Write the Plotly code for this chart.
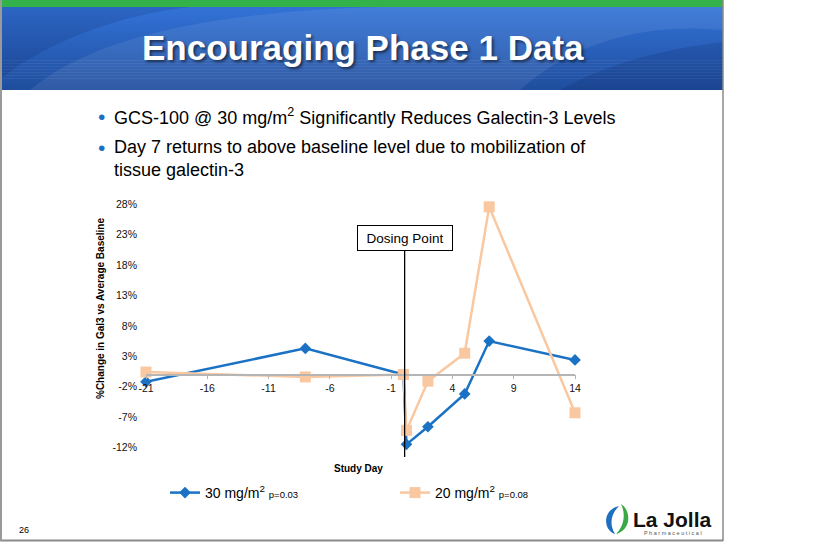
import plotly.graph_objects as go

# ---------------- data ----------------
study_days = [-21, -8, 0, 0.25, 2, 5, 7, 14]
change_30mg = [-1.2, 4.3, 0.0, -11.5, -8.6, -3.2, 5.5, 2.4]
change_20mg = [0.4, -0.4, 0.0, -9.2, -1.1, 3.5, 27.6, -6.3]
x_ticks = [-21, -16, -11, -6, -1, 4, 9, 14]
y_ticks = [-12, -7, -2, 3, 8, 13, 18, 23, 28]
y_tick_labels = [f"{v}%" for v in y_ticks]
series_names = ["30 mg/m<sup>2</sup> <span style='font-size:9.5px'>p=0.03</span>",
                "20 mg/m<sup>2</sup> <span style='font-size:9.5px'>p=0.08</span>"]
DOSING_DAY = 0.1

W, H = 819, 542
ML, MR, MT, MB = 146, 244, 201, 82
PW, PH = W - ML - MR, H - MT - MB
Y0PX, YSCALE = 374.5, 6.075
y_range = [-(H - MB - Y0PX) / YSCALE, (Y0PX - MT) / YSCALE]


def px(x):
    return (x - ML) / PW


def py(y):
    return (H - MB - y) / PH


def ydata(y):
    return (Y0PX - y) / YSCALE


BLUE = "#1b72c4"
ORANGE = "#f9c8a0"
FONT = "Liberation Sans, Arial, sans-serif"

fig = go.Figure()
fig.add_trace(go.Scatter(
    x=study_days, y=change_30mg, name=series_names[0], mode="lines+markers",
    line=dict(color=BLUE, width=2.5),
    marker=dict(symbol="diamond", size=9, color=BLUE),
    cliponaxis=False, hoverinfo="skip", legend="legend"))
fig.add_trace(go.Scatter(
    x=study_days, y=change_20mg, name=series_names[1], mode="lines+markers",
    line=dict(color=ORANGE, width=2.5),
    marker=dict(symbol="square", size=11, color=ORANGE),
    cliponaxis=False, hoverinfo="skip", legend="legend2"))

shapes = []
# header gradient
N = 28
top_c, bot_c = (50, 114, 214), (32, 78, 158)
for i in range(N):
    t = i / (N - 1)
    c = tuple(round(top_c[k] + (bot_c[k] - top_c[k]) * t) for k in range(3))
    y0 = 7 + (90 - 7) * i / N
    y1 = 7 + (90 - 7) * (i + 1) / N + 0.5
    shapes.append(dict(type="rect", xref="paper", yref="paper",
                       x0=px(2), x1=px(723), y0=py(y0), y1=py(min(y1, 90)),
                       fillcolor=f"rgb{c}", line_width=0, layer="below"))


def path(pts):
    s = ""
    for p in pts:
        if p[0] in ("M", "L"):
            s += f"{p[0]} {px(p[1])},{py(p[2])} "
        elif p[0] == "C":
            s += f"C {px(p[1])},{py(p[2])} {px(p[3])},{py(p[4])} {px(p[5])},{py(p[6])} "
    return s + "Z"


shapes.append(dict(type="path", xref="paper", yref="paper", layer="below",
                   path=path([("M", 30, 90), ("C", 90, 40, 200, 12, 380, 7), ("L", 723, 7),
                              ("L", 723, 30), ("C", 640, 22, 570, 45, 520, 90)]),
                   fillcolor="rgba(255,255,255,0.08)", line_width=0))
shapes.append(dict(type="path", xref="paper", yref="paper", layer="below",
                   path=path([("M", 2, 7), ("L", 190, 7), ("C", 120, 15, 50, 40, 2, 78)]),
                   fillcolor="rgba(0,10,60,0.12)", line_width=0))
shapes.append(dict(type="path", xref="paper", yref="paper", layer="below",
                   path=path([("M", 560, 90), ("C", 610, 62, 670, 48, 723, 42), ("L", 723, 90)]),
                   fillcolor="rgba(0,10,60,0.12)", line_width=0))
# green top bar
shapes.append(dict(type="rect", xref="paper", yref="paper", x0=px(0), x1=px(723),
                   y0=py(7), y1=py(0), fillcolor="#33b24a", line_width=0, layer="below"))
# slide frame
shapes.append(dict(type="line", xref="paper", yref="paper", x0=px(723), x1=px(723),
                   y0=py(0), y1=py(541), line=dict(color="#8a8a8a", width=1.5)))
shapes.append(dict(type="line", xref="paper", yref="paper", x0=px(0), x1=px(723),
                   y0=py(540.5), y1=py(540.5), line=dict(color="#8a8a8a", width=2)))
shapes.append(dict(type="line", xref="paper", yref="paper", x0=px(1), x1=px(1),
                   y0=py(0), y1=py(541), line=dict(color="#9a9a9a", width=2)))
# dosing line
shapes.append(dict(type="line", xref="x", yref="y", x0=DOSING_DAY, x1=DOSING_DAY,
                   y0=ydata(250), y1=ydata(457), line=dict(color="black", width=1.3)))
# logo leaves
shapes.append(dict(type="path", xref="paper", yref="paper",
                   path=path([("M", 619, 506), ("C", 602, 510, 603, 530, 615, 534),
                              ("C", 609, 524, 611, 514, 619, 506)]),
                   fillcolor="#1f6fc0", line_width=0))
shapes.append(dict(type="path", xref="paper", yref="paper",
                   path=path([("M", 616, 534), ("C", 632, 530, 631, 510, 621, 504),
                              ("C", 626, 514, 624, 526, 616, 534)]),
                   fillcolor="#3aa845", line_width=0))

ann = []
ann.append(dict(text="Encouraging Phase 1 Data", x=px(363), y=py(47), xref="paper", yref="paper",
                showarrow=False, xanchor="center", yanchor="middle",
                font=dict(family=FONT, size=35, color="white", weight="bold",
                          shadow="2px 2px 3px rgba(0,0,0,0.55)")))
bullet_lines = [("GCS-100 @ 30 mg/m<sup>2</sup> Significantly Reduces Galectin-3 Levels", 116, True),
                ("Day 7 returns to above baseline level due to mobilization of", 147, True),
                ("tissue galectin-3", 170, False)]
for txt, yy, has_b in bullet_lines:
    ann.append(dict(text=txt, x=px(112), y=py(yy), xref="paper", yref="paper",
                    showarrow=False, xanchor="left", yanchor="middle",
                    font=dict(family=FONT, size=18, color="black")))
    if has_b:
        ann.append(dict(text="•", x=px(101), y=py(yy), xref="paper", yref="paper",
                        showarrow=False, xanchor="center", yanchor="middle",
                        font=dict(family=FONT, size=21, color="#1f6fc5")))
ann.append(dict(text="Dosing Point", x=DOSING_DAY, y=ydata(238), xref="x", yref="y",
                showarrow=False, xanchor="center", yanchor="middle",
                bgcolor="white", bordercolor="black", borderwidth=1, borderpad=3,
                width=88, height=18, font=dict(family=FONT, size=13.5, color="black")))
ann.append(dict(text="%Change in Gal3 vs Average Baseline", x=px(100), y=py(309),
                xref="paper", yref="paper", showarrow=False, textangle=-90,
                xanchor="center", yanchor="middle",
                font=dict(family=FONT, size=10, color="black", weight="bold")))
ann.append(dict(text="Study Day", x=px(358), y=py(468), xref="paper", yref="paper",
                showarrow=False, xanchor="center", yanchor="middle",
                font=dict(family=FONT, size=10, color="black", weight="bold")))
ann.append(dict(text="26", x=px(24), y=py(530), xref="paper", yref="paper",
                showarrow=False, xanchor="center", yanchor="middle",
                font=dict(family=FONT, size=9, color="black")))
ann.append(dict(text="La Jolla", x=px(672), y=py(519), xref="paper", yref="paper",
                showarrow=False, xanchor="center", yanchor="middle",
                font=dict(family=FONT, size=21, color="#111", weight="bold")))
ann.append(dict(text="P h a r m a c e u t i c a l", x=px(673), y=py(533), xref="paper", yref="paper",
                showarrow=False, xanchor="center", yanchor="middle",
                font=dict(family=FONT, size=5.5, color="#555")))

legend_common = dict(orientation="h", yanchor="middle", xanchor="left",
                     font=dict(family=FONT, size=14, color="black"), bgcolor="rgba(0,0,0,0)",
                     borderwidth=0)
fig.update_layout(
    width=W, height=H, autosize=False,
    margin=dict(l=ML, r=MR, t=MT, b=MB, pad=0),
    paper_bgcolor="white", plot_bgcolor="rgba(0,0,0,0)",
    shapes=shapes, annotations=ann,
    showlegend=True,
    legend=dict(x=px(165), y=py(493), **legend_common),
    legend2=dict(x=px(395), y=py(493), **legend_common),
    xaxis=dict(range=[-21, 14], tickvals=x_ticks, ticktext=[str(v) for v in x_ticks],
               anchor="free", position=(0 - y_range[0]) / (y_range[1] - y_range[0]),
               showline=True, linecolor="#b5b5b5", linewidth=1.5,
               ticks="outside", ticklen=4, tickcolor="#b5b5b5", tickwidth=1,
               showgrid=False, zeroline=False,
               tickfont=dict(family=FONT, size=10.5, color="#111")),
    yaxis=dict(range=y_range, tickvals=y_ticks, ticktext=y_tick_labels,
               showline=False, showgrid=False, zeroline=False, ticks="",
               ticklabelstandoff=8,
               tickfont=dict(family=FONT, size=10.5, color="#111")),
    hovermode=False,
)
fig.write_html("out.html", config={"displayModeBar": False},
               post_script="document.body.style.margin='0';")
